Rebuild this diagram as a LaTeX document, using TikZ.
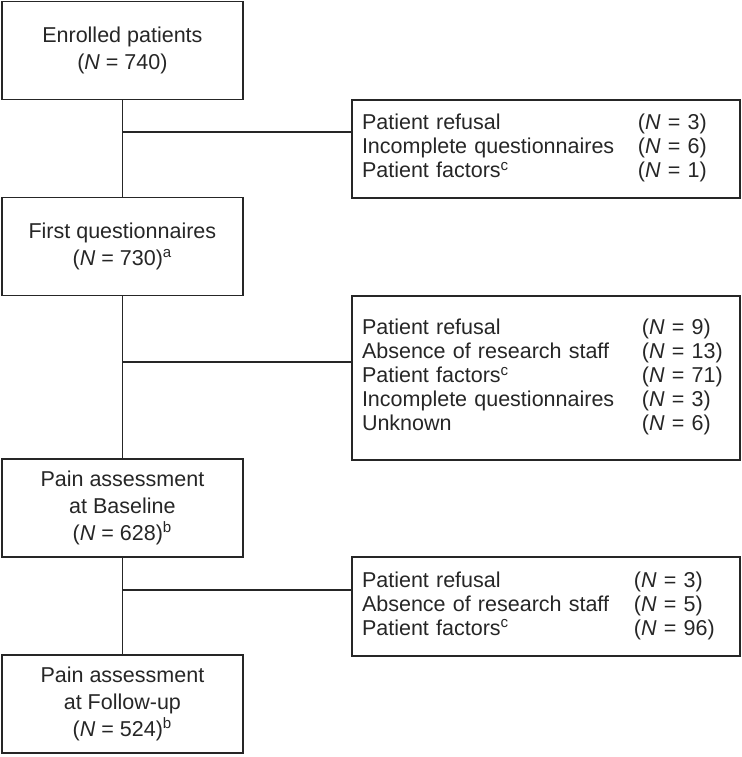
\documentclass[tikz,border=0pt]{standalone}
\usepackage{fontspec}
\setmainfont{Liberation Sans}
\usetikzlibrary{positioning}
\newcommand{\nn}[1]{(\textit{N} = #1)}
\begin{document}
\begin{tikzpicture}[
        every path/.style={line width=1.2pt, black!85},
        stage/.style={draw, minimum width=6.025cm, minimum height=2.45cm, align=center, font=\fontsize{15.3pt}{19pt}\selectfont},
        reasons/.style={draw, text width=9.2cm, inner xsep=0.25cm, minimum height=#1, font=\fontsize{15.3pt}{17pt}\selectfont},
        reasons/.default=2.45cm
    ]
        \useasboundingbox (0, 0) rectangle (18.55, -18.925);
        \node[stage] (enrolled) at (3.06, -1.26) {Enrolled patients\\\nn{740}};
        \node[stage] (first) at (3.06, -6.16) {First questionnaires\\\nn{730}\textsuperscript{a}};
        \node[stage] (baseline) at (3.06, -12.7) {Pain assessment\\at Baseline\\\nn{628}\textsuperscript{b}};
        \node[stage] (followup) at (3.06, -17.6) {Pain assessment\\at Follow-up\\\nn{524}\textsuperscript{b}};
        \node[reasons] (lost1) at (13.65, -3.725) {\begin{tabular}{@{}p{6.9cm}@{}l@{}}
            Patient refusal & \nn{3}\\
            Incomplete questionnaires & \nn{6}\\
            Patient factors\textsuperscript{c} & \nn{1}
        \end{tabular}};
        \node[reasons=4.1cm] (lost2) at (13.65, -9.45) {\begin{tabular}{@{}p{7.0cm}@{}l@{}}
            Patient refusal & \nn{9}\\
            Absence of research staff & \nn{13}\\
            Patient factors\textsuperscript{c} & \nn{71}\\
            Incomplete questionnaires & \nn{3}\\
            Unknown & \nn{6}
        \end{tabular}};
        \node[reasons=2.475cm] (lost3) at (13.65, -15.16) {\begin{tabular}{@{}p{6.8cm}@{}l@{}}
            Patient refusal & \nn{3}\\
            Absence of research staff & \nn{5}\\
            Patient factors\textsuperscript{c} & \nn{96}
        \end{tabular}};
        % trunk
        \draw (enrolled) -- (first);
        \draw (first) -- (baseline);
        \draw (baseline) -- (followup);
        % branches
        \coordinate (b1) at (3.06, -3.3);
        \coordinate (b2) at (3.06, -9.05);
        \coordinate (b3) at (3.06, -14.75);
        \draw (b1) -- (b1 -| lost1.west);
        \draw (b2) -- (b2 -| lost2.west);
        \draw (b3) -- (b3 -| lost3.west);
    \end{tikzpicture}
\end{document}
